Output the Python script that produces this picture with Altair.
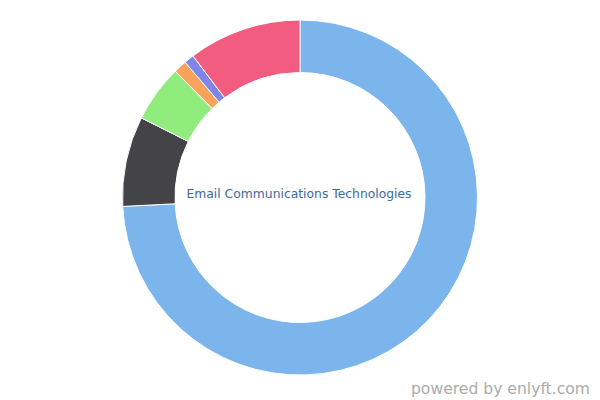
import altair as alt
import pandas as pd

categories = ["United States", "United Kingdom", "Canada", "Australia", "India", "Other"]
shares = [74.2, 8.2, 5.2, 1.2, 0.9, 10.3]
colors = ["#7cb5ec", "#434348", "#90ed7d", "#f7a35c", "#8085e9", "#f15c80"]
center_label = "Email Communications Technologies"
credit = "powered by enlyft.com"

df = pd.DataFrame({"category": categories, "share": shares, "order": list(range(len(categories)))})

CX, CY = 292, 189.5

donut = alt.Chart(df).mark_arc(innerRadius=125, outerRadius=177.5, stroke="white", strokeWidth=1).encode(
    theta=alt.Theta("share:Q", stack=True),
    order=alt.Order("order:Q"),
    color=alt.Color("category:N", scale=alt.Scale(domain=categories, range=colors), legend=None),
    x=alt.value(CX),
    y=alt.value(CY),
)

label = alt.Chart(pd.DataFrame({"t": [center_label]})).mark_text(
    font="DejaVu Sans", fontSize=12.35, color="#41699b", align="center", baseline="middle"
).encode(text="t:N", x=alt.value(CX - 1), y=alt.value(CY - 4))

footer = alt.Chart(pd.DataFrame({"t": [credit]})).mark_text(
    font="DejaVu Sans", fontSize=15.6, color="#ababab", align="right", baseline="alphabetic"
).encode(text="t:N", x=alt.value(582), y=alt.value(386))

chart = alt.layer(donut, label, footer).properties(
    width=584, height=390, padding=0, autosize="none"
).configure_view(stroke=None)

chart.save("out.html", embed_options={"renderer": "svg", "actions": False})
